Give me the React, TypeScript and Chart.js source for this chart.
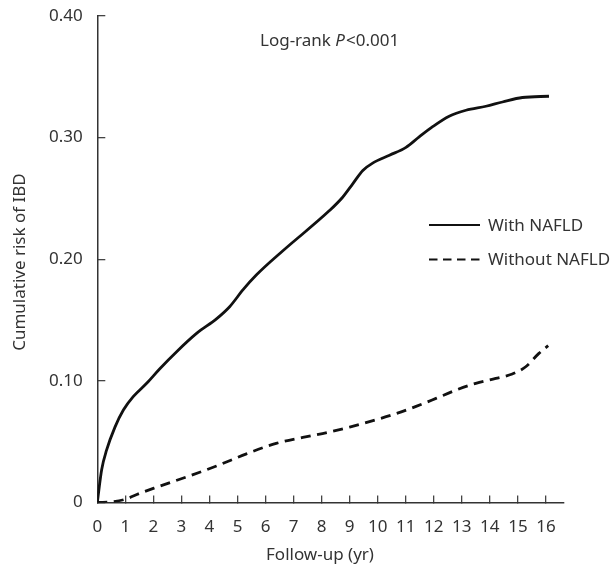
import React, { useEffect, useRef } from "react";
import { Chart, registerables } from "chart.js";

Chart.register(...registerables);

const withNafldX = [0, 0.155, 0.33, 0.63, 0.93, 1.28, 1.76, 2.23, 2.83, 3.54, 4.25, 4.72, 5.2, 5.67, 6.62, 8.28, 8.75, 9.11, 9.47, 9.82, 10.42, 11.01, 11.48, 11.96, 12.55, 13.15, 13.86, 14.45, 15.16, 16.11];
const withNafldY = [0, 0.027, 0.043, 0.062, 0.076, 0.087, 0.098, 0.11, 0.124, 0.139, 0.151, 0.161, 0.175, 0.187, 0.207, 0.24, 0.251, 0.262, 0.273, 0.279, 0.2855, 0.292, 0.3006, 0.309, 0.3176, 0.3225, 0.3258, 0.3293, 0.333, 0.334];

const withoutNafldX = [0, 0.57, 0.99, 1.51, 2.11, 3.18, 4.25, 5.32, 6.38, 7.33, 8.28, 9.0, 9.94, 10.65, 11.37, 12.08, 12.79, 13.5, 14.21, 14.8, 15.28, 15.75, 16.08];
const withoutNafldY = [0, 0.0007, 0.0026, 0.0075, 0.0125, 0.021, 0.03, 0.04, 0.0486, 0.0535, 0.058, 0.062, 0.068, 0.073, 0.079, 0.0856, 0.0924, 0.098, 0.102, 0.1056, 0.1116, 0.1226, 0.129];

const xTicks = [0, 1, 2, 3, 4, 5, 6, 7, 8, 9, 10, 11, 12, 13, 14, 15, 16];
const yTicks = [0, 0.1, 0.2, 0.3, 0.4];
const yTickLabels = ["0", "0.10", "0.20", "0.30", "0.40"];

const seriesNames = ["With NAFLD", "Without NAFLD"];
const xTitle = "Follow-up (yr)";
const yTitle = "Cumulative risk of IBD";

const FONT = "'Noto Sans', sans-serif";
const TEXT = "#333";

const annotations = {
  id: "annotations",
  afterDraw(chart: any) {
    const ctx = chart.ctx;
    ctx.save();
    ctx.fillStyle = TEXT;
    ctx.font = `17px ${FONT}`;
    ctx.textBaseline = "middle";
    // x title
    ctx.textAlign = "center";
    ctx.fillText(xTitle, 320, 555);
    // y title
    ctx.save();
    ctx.translate(20, 262);
    ctx.rotate(-Math.PI / 2);
    ctx.fillText(yTitle, 0, 0);
    ctx.restore();
    // log-rank text
    ctx.textAlign = "left";
    let x = 260;
    const y = 41;
    const p1 = "Log-rank ";
    ctx.font = `17px ${FONT}`;
    ctx.fillText(p1, x, y);
    x += ctx.measureText(p1).width;
    ctx.font = `italic 17px ${FONT}`;
    ctx.fillText("P", x, y);
    x += ctx.measureText("P").width + 1;
    ctx.font = `17px ${FONT}`;
    ctx.fillText("<0.001", x, y);
    // legend
    ctx.strokeStyle = "#111";
    ctx.lineWidth = 2;
    ctx.beginPath();
    ctx.moveTo(429, 225);
    ctx.lineTo(480, 225);
    ctx.stroke();
    ctx.setLineDash([8.5, 5.5]);
    ctx.beginPath();
    ctx.moveTo(429, 259.5);
    ctx.lineTo(480, 259.5);
    ctx.stroke();
    ctx.setLineDash([]);
    ctx.fillText(seriesNames[0], 488, 226);
    ctx.fillText(seriesNames[1], 488, 260.5);
    ctx.restore();
  },
};

export default function App() {
  const ref = useRef<HTMLCanvasElement>(null);
  useEffect(() => {
    if (!ref.current) return;
    const chart = new Chart(ref.current, {
      type: "line",
      data: {
        datasets: [
          {
            label: seriesNames[0],
            data: withNafldX.map((x, i) => ({ x, y: withNafldY[i] })),
            borderColor: "#111",
            borderWidth: 2.8,
            pointRadius: 0,
            cubicInterpolationMode: "monotone",
            fill: false,
          },
          {
            label: seriesNames[1],
            data: withoutNafldX.map((x, i) => ({ x, y: withoutNafldY[i] })),
            borderColor: "#111",
            borderWidth: 2.8,
            borderDash: [10, 6.5],
            pointRadius: 0,
            cubicInterpolationMode: "monotone",
            fill: false,
          },
        ],
      },
      options: {
        responsive: false,
        animation: false,
        layout: { padding: { top: 16, right: 49.7, left: 0, bottom: 0 } },
        plugins: { legend: { display: false }, tooltip: { enabled: false } },
        scales: {
          x: {
            type: "linear",
            min: 0,
            max: 16.62,
            afterFit: (s: any) => {
              s.height = 71.5;
              s.paddingLeft = 0;
              s.paddingRight = 0;
            },
            afterBuildTicks: (s: any) => {
              s.ticks = xTicks.map((v) => ({ value: v }));
            },
            grid: {
              display: true,
              drawOnChartArea: false,
              drawTicks: true,
              tickLength: -7,
              color: "#444",
              lineWidth: 1.3,
            },
            border: { display: true, color: "#333", width: 1.5 },
            ticks: {
              padding: 21,
              color: TEXT,
              font: { family: FONT, size: 17 },
              maxRotation: 0,
              autoSkip: false,
              callback: (v: any) => String(v),
            },
          },
          y: {
            type: "linear",
            min: 0,
            max: 0.4,
            afterFit: (s: any) => {
              s.width = 97.3;
              s.paddingTop = 0;
              s.paddingBottom = 0;
            },
            afterBuildTicks: (s: any) => {
              s.ticks = yTicks.map((v) => ({ value: v }));
            },
            grid: {
              display: true,
              drawOnChartArea: false,
              drawTicks: true,
              tickLength: -8,
              color: "#444",
              lineWidth: 1.3,
            },
            border: { display: true, color: "#333", width: 1.5 },
            ticks: {
              padding: 22.6,
              color: TEXT,
              font: { family: FONT, size: 17 },
              autoSkip: false,
              callback: (v: any) => {
                const i = yTicks.findIndex((t) => Math.abs(t - v) < 1e-9);
                return i >= 0 ? yTickLabels[i] : "";
              },
            },
          },
        },
      },
      plugins: [annotations],
    });
    return () => chart.destroy();
  }, []);
  return (
    <div style={{ position: "fixed", left: 0, top: 0, width: 613, height: 574, background: "#fff" }}>
      <canvas ref={ref} width={613} height={574} style={{ display: "block" }} />
    </div>
  );
}
